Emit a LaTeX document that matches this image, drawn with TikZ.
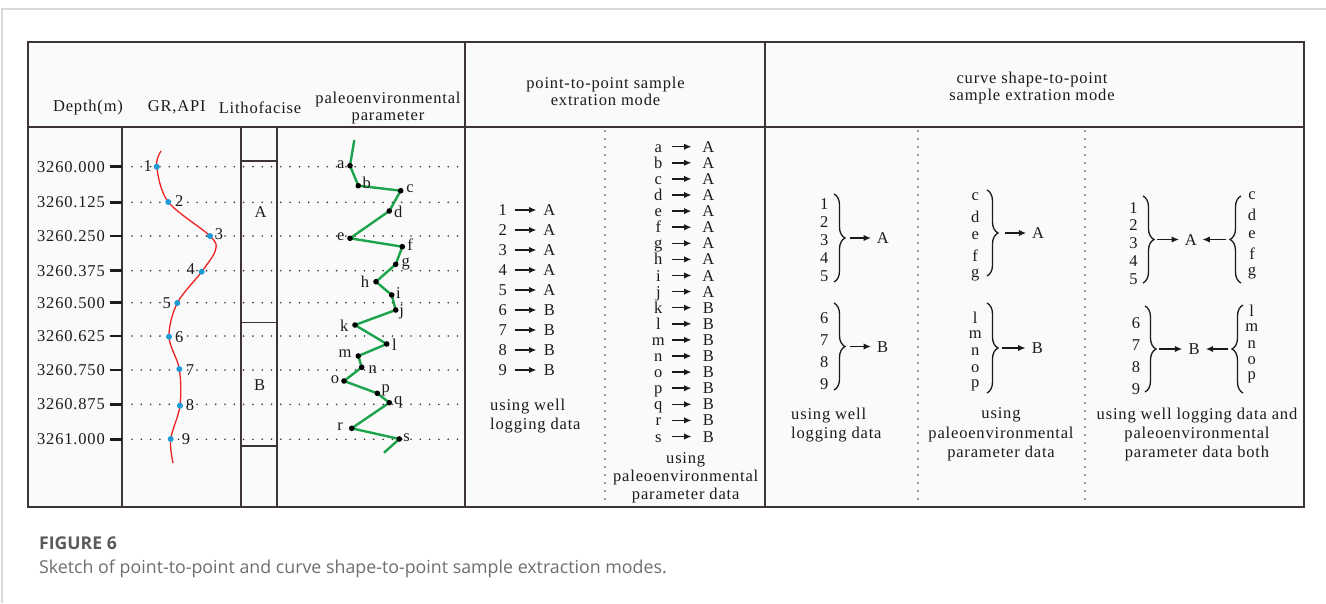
\documentclass[tikz,border=0pt]{standalone}
\usepackage{fontspec}
\setmainfont{Liberation Serif}[LetterSpace=5]
\newfontfamily\capfont{Open Sans}
\usetikzlibrary{arrows.meta,decorations.pathreplacing}
\definecolor{bord}{HTML}{3D3535}
\definecolor{txt}{HTML}{1E1A1B}
\definecolor{tablebg}{HTML}{FAFAFA}
\definecolor{framegray}{HTML}{D8D8D8}
\definecolor{grn}{HTML}{1CA34B}
\definecolor{dotblue}{HTML}{1E9BD7}
\definecolor{curvered}{HTML}{EE2222}
\definecolor{capgray}{HTML}{5A5A5A}
\definecolor{capgray2}{HTML}{6E6E6E}
\begin{document}
\begin{tikzpicture}[x=1pt,y=-1pt,
  every node/.style={font=\fontsize{16.5}{17.5}\selectfont, text=txt, inner sep=0pt},
  border/.style={draw=bord, line width=1.8pt},
  grid/.style={draw=bord, line width=1.5pt},
  hdots/.style={draw=bord, line width=1.8pt, line cap=round, dash pattern=on 0pt off 9.3pt},
  vdots/.style={draw=bord, line width=1.7pt, line cap=round, dash pattern=on 0pt off 8pt},
  arr/.style={-{Latex[length=7.5pt,width=6.5pt]}, line width=1.5pt, draw=txt},
  brc/.style={decorate, decoration={brace, amplitude=11pt}, line width=1.3pt, draw=txt},
  fix/.style={text height=11pt, text depth=0pt},
  src/.style={fix, minimum width=#1},
  tgt/.style={fix, minimum width=23pt},
  cap3/.style={align=center, font=\fontsize{16.5}{19.4}\selectfont},
]
\useasboundingbox (0,0) rectangle (1326,603);
% page frame
\draw[framegray, line width=1.5pt] (2,603) -- (2,9) -- (1326,9);
% table
\fill[tablebg] (28,42) rectangle (1304,507);
\draw[grid] (28,127) -- (1304,127);
\draw[grid] (122,127) -- (122,507);
\draw[grid] (241,127) -- (241,507);
\draw[grid] (277,127) -- (277,507);
\draw[grid] (465,42) -- (465,507);
\draw[grid] (765,42) -- (765,507);
\draw[grid] (241,161) -- (277,161);
\draw[grid] (241,322.5) -- (277,322.5);
\draw[grid] (241,446) -- (277,446);
\draw[border] (28,42) rectangle (1304,507);
\draw[vdots] (605,131) -- (605,505);
\draw[vdots] (918,131) -- (918,505);
\draw[vdots] (1085,131) -- (1085,505);
% headers
\node (hdep) at (88,107.7) {Depth(m)};
\node (hgr) at (176.7,107.7) {GR,API};
\node (hlith) at (260,108) {Lithofacise};
\node[align=center] (hpal) at (388,108) {paleoenvironmental\\parameter};
\node[align=center] (hp2p) at (605.5,91.3) {point-to-point sample\\extration mode};
\node[align=center] (hc2p) at (1032,88) {curve shape-to-point\\sample extration mode};
% lithofacies letters
\node (litA) at (260.5,211.7) {A};
\node (litB) at (259.5,385) {B};
% depth ticks and dotted lines
\foreach \d/\y [count=\i] in {3260.000/166.7,3260.125/202.3,3260.250/236,3260.375/270.7,3260.500/302.7,3260.625/336,3260.750/370,3260.875/404.3,3261.000/439.3}{
  \node[anchor=east] (dep\i) at (105,\y) {\d};
  \draw[line width=2.8pt, draw=txt] (110,\y) -- (122,\y);
  \draw[hdots] (132,\y) -- (458,\y);
}
% GR curve
\coordinate (g0) at (161,151);
\coordinate (g3x) at (215.5,250);
\coordinate (g10) at (173,463);
\foreach \n/\x/\y in {1/156.7/166.7,2/168.3/202,3/210/236,4/201.7/271.7,5/177.3/303,6/169/336.7,7/179.3/369,8/180/405.7,9/170.7/439}{
  \coordinate (g\n) at (\x,\y);
}
\draw[curvered, line width=1.3pt] plot[smooth, tension=0.55] coordinates {(g0) (g1) (g2) (g3) (g3x) (g4) (g5) (g6) (g7) (g8) (g9) (g10)};
\foreach \n/\lx/\ly in {1/147.7/166,2/179.3/201,3/219/234,4/190.7/269,5/166.7/303,6/179.3/336.7,7/190/370,8/190/405,9/186/439}{
  \fill[dotblue] (g\n) circle (3pt);
  \node (gl\n) at (\lx,\ly) {\n};
}
% paleoenvironmental curve
\coordinate (ptop) at (354.3,140);
\coordinate (pend) at (384,452.7);
\foreach \n/\x/\y in {a/350/165.7,b/358.3/185.7,c/400.7/190.7,d/389.3/211,e/350/238.3,f/402.3/246.7,g/395.7/264.3,h/376/281.7,i/391.7/295,j/395.7/310,k/355/325,l/386.7/344,m/358.3/356,n/361.7/367.3,o/344/381,p/377.3/393.3,q/389.3/402.7,r/351.7/428.3,s/399.3/439}{
  \coordinate (p\n) at (\x,\y);
}
\draw[grn, line width=2.4pt, line join=round] (ptop) -- (pa) -- (pb) -- (pc) -- (pd) -- (pe) -- (pf) -- (pg) -- (ph) -- (pi) -- (pj) -- (pk) -- (pl) -- (pm) -- (pn) -- (po) -- (pp) -- (pq) -- (pr) -- (ps) -- (pend);
\foreach \n/\lx/\ly in {a/340.7/165,b/366.7/182.7,c/410/189,d/398.3/211.7,e/340.7/236.7,f/410/245,g/405.7/264.3,h/365/281.7,i/398.3/292.7,j/401.7/311.7,k/344.3/326,l/394.3/345,m/345/354,n/372.7/369.3,o/335/380,p/385.7/390,q/398.3/402.7,r/340/426.7,s/406.7/437.3}{
  \fill[black] (p\n) circle (2.8pt);
  \node (pl\n) at (\lx,\ly) {\n};
}
% point-to-point: well logging
\foreach \l/\c [count=\i] in {1/A,2/A,3/A,4/A,5/A,6/B,7/B,8/B,9/B}{
  \pgfmathsetmacro\yy{210+20*(\i-1)}
  \node[src=24.6pt] (wl\i) at (502.7,\yy) {\l};
  \node[src=25.2pt] (wc\i) at (549.3,\yy) {\c};
  \draw[arr] (wl\i) -- (wc\i);
}
\node[anchor=west, align=left, font=\fontsize{16.5}{18.3}\selectfont] (wcap) at (490,416) {using well\\logging data};
% point-to-point: paleo parameter
\foreach \l/\c [count=\i] in {a/A,b/A,c/A,d/A,e/A,f/A,g/A,h/A,i/A,j/A,k/B,l/B,m/B,n/B,o/B,p/B,q/B,r/B,s/B}{
  \pgfmathsetmacro\yy{146.7+16.1*(\i-1)}
  \node[src=26.8pt] (ql\i) at (658.3,\yy) {\l};
  \node[src=33.2pt] (qc\i) at (708.3,\yy) {\c};
  \draw[arr] (ql\i) -- (qc\i);
}
\node[align=center, font=\fontsize{16.5}{18}\selectfont] (qcap) at (685.7,478) {using\\paleoenvironmental\\parameter data};
% curve shape-to-point: group 1
\foreach \l [count=\i] in {1,2,3,4,5}{
  \pgfmathsetmacro\yy{204+18*(\i-1)}
  \node (c1u\i) at (824.3,\yy) {\l};
}
\foreach \l [count=\i] in {6,7,8,9}{
  \pgfmathsetmacro\yy{318+21.9*(\i-1)}
  \node (c1l\i) at (824.3,\yy) {\l};
}
\draw[brc] (834,194) -- (834,282);
\draw[brc] (834,303) -- (834,390);
\coordinate (t1u) at (849.5,238);
\coordinate (t1l) at (849.5,346.5);
\node[tgt] (A1) at (882.7,238) {A};
\node[tgt] (B1) at (882.7,346.5) {B};
\draw[arr] (t1u) -- (A1);
\draw[arr] (t1l) -- (B1);
\node[anchor=west, align=left, font=\fontsize{16.5}{19.4}\selectfont] (c1cap) at (791,425) {using well\\logging data};
% group 2
\foreach \l [count=\i] in {c,d,e,f,g}{
  \pgfmathsetmacro\yy{197+19.5*(\i-1)}
  \node (c2u\i) at (975.2,\yy) {\l};
}
\foreach \l [count=\i] in {l,m,n,o,p}{
  \pgfmathsetmacro\yy{318+16.9*(\i-1)}
  \node (c2l\i) at (975.2,\yy) {\l};
}
\draw[brc] (987,190) -- (987,276);
\draw[brc] (987,303) -- (987,393);
\coordinate (t2u) at (1004.8,233);
\coordinate (t2l) at (1002,348);
\node[tgt] (A2) at (1038,233) {A};
\node[tgt] (B2) at (1037.3,348) {B};
\draw[arr] (t2u) -- (A2);
\draw[arr] (t2l) -- (B2);
\node[cap3] (c2cap) at (1001,434.6) {using\\paleoenvironmental\\parameter data};
% group 3
\foreach \l [count=\i] in {1,2,3,4,5}{
  \pgfmathsetmacro\yy{207.7+17.8*(\i-1)}
  \node (c3u\i) at (1133.6,\yy) {\l};
}
\foreach \l [count=\i] in {c,d,e,f,g}{
  \pgfmathsetmacro\yy{195.8+19.4*(\i-1)}
  \node (c3v\i) at (1252,\yy) {\l};
}
\foreach \l [count=\i] in {6,7,8,9}{
  \pgfmathsetmacro\yy{323+22*(\i-1)}
  \node (c3l\i) at (1136,\yy) {\l};
}
\foreach \l [count=\i] in {l,m,n,o,p}{
  \pgfmathsetmacro\yy{311+16.6*(\i-1)}
  \node (c3m\i) at (1251.7,\yy) {\l};
}
\draw[brc] (1143,196) -- (1143,283);
\draw[brc] (1241,283) -- (1241,196);
\draw[brc] (1145,306) -- (1145,392);
\draw[brc] (1243,393) -- (1243,305);
\coordinate (t3u) at (1157,239.5);
\coordinate (t3v) at (1226,239.5);
\coordinate (t3l) at (1159,349);
\coordinate (t3m) at (1228,349);
\node[tgt] (A3) at (1190.7,239.5) {A};
\node[tgt] (B3) at (1194,349) {B};
\draw[arr] (t3u) -- (A3);
\draw[arr] (t3v) -- (A3);
\draw[arr] (t3l) -- (B3);
\draw[arr] (t3m) -- (B3);
\node[cap3] (c3cap) at (1197,434.6) {using well logging data and\\paleoenvironmental\\parameter data both};
% caption
\node[anchor=west, font=\capfont\bfseries\fontsize{17.6}{20}\selectfont, text=capgray] (fig) at (39,543) {FIGURE 6};
\node[anchor=west, font=\capfont\fontsize{17.8}{20}\selectfont, text=capgray2] (figcap) at (39,569) {Sketch of point-to-point and curve shape-to-point sample extraction modes.};
\end{tikzpicture}
\end{document}
